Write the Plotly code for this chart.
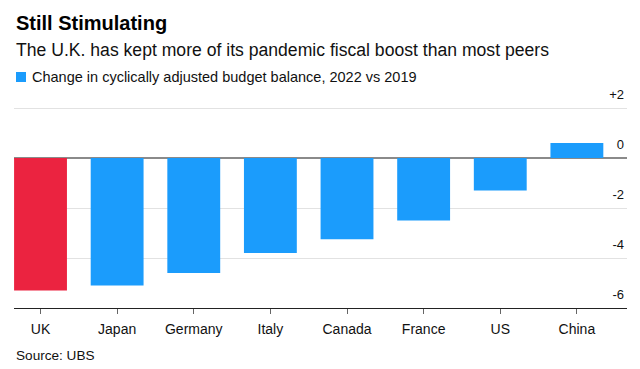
import plotly.graph_objects as go

countries = ["UK", "Japan", "Germany", "Italy", "Canada", "France", "US", "China"]
change = [-5.3, -5.1, -4.6, -3.8, -3.25, -2.5, -1.3, 0.6]
bar_colors = ["#EB2340", "#1B9CFC", "#1B9CFC", "#1B9CFC", "#1B9CFC", "#1B9CFC", "#1B9CFC", "#1B9CFC"]
y_tickvals = [2, 0, -2, -4, -6]
y_ticktext = ["+2", "0", "-2", "-4", "-6"]
legend_label = "Change in cyclically adjusted budget balance, 2022 vs 2019"

FONT = "Liberation Sans"
H = 369
TOP, BOTTOM = 84, 308   # plot area pixel edges
PX_PER_UNIT = 25
Y_TOP = -6 + (BOTTOM - TOP) / PX_PER_UNIT
PLOT_W = 640 - 14 - 13


def py(pix):
    """pixel row -> paper y"""
    return (BOTTOM - pix) / (BOTTOM - TOP)


fig = go.Figure()
fig.add_trace(go.Bar(
    x=countries, y=change,
    marker=dict(color=bar_colors, line=dict(width=0)),
    showlegend=False, hoverinfo="skip",
))

fig.update_layout(
    width=640, height=H,
    margin=dict(l=14, r=13, t=TOP, b=H - BOTTOM, autoexpand=False),
    paper_bgcolor="white", plot_bgcolor="white",
    font=dict(family=FONT, color="#222"),
    bargap=0.31,
    showlegend=False,
    xaxis=dict(
        range=[-0.346, 7.654],
        showline=True, linecolor="#222", linewidth=1,
        ticks="outside", ticklen=5, tickcolor="#666",
        ticklabelstandoff=3,
        tickfont=dict(size=14, color="#111"),
        showgrid=False, fixedrange=True,
    ),
    yaxis=dict(
        range=[-6, Y_TOP], side="right",
        tickvals=y_tickvals, ticktext=y_ticktext,
        ticklabelposition="inside top",
        ticklabelshift=-4,
        tickfont=dict(size=13, color="#111"),
        showgrid=True, gridcolor="#e2e2e2", gridwidth=1,
        zeroline=True, zerolinecolor="#8a8a8a", zerolinewidth=1.5,
        ticks="", fixedrange=True,
    ),
    shapes=[
        dict(type="rect", xref="paper", yref="paper",
             x0=2 / PLOT_W, x1=12 / PLOT_W, y0=py(82), y1=py(72),
             fillcolor="#1B9CFC", line=dict(width=0)),
    ],
    annotations=[
        dict(text="<b>Still Stimulating</b>", x=0, y=py(23),
             xref="paper", yref="paper", xanchor="left", yanchor="middle",
             showarrow=False, font=dict(size=20, color="#000")),
        dict(text="The U.K. has kept more of its pandemic fiscal boost than most peers",
             x=0, y=py(50),
             xref="paper", yref="paper", xanchor="left", yanchor="middle",
             showarrow=False, font=dict(size=17.6, color="#111")),
        dict(text=legend_label, x=16 / PLOT_W, y=py(77),
             xref="paper", yref="paper", xanchor="left", yanchor="middle",
             showarrow=False, font=dict(size=14.5, color="#111")),
        dict(text="Source: UBS", x=0, y=py(355),
             xref="paper", yref="paper", xanchor="left", yanchor="middle",
             showarrow=False, font=dict(size=13.6, color="#111")),
    ],
)

fig.write_html("out.html", config={"displayModeBar": False},
               post_script="document.body.style.margin='0';")
